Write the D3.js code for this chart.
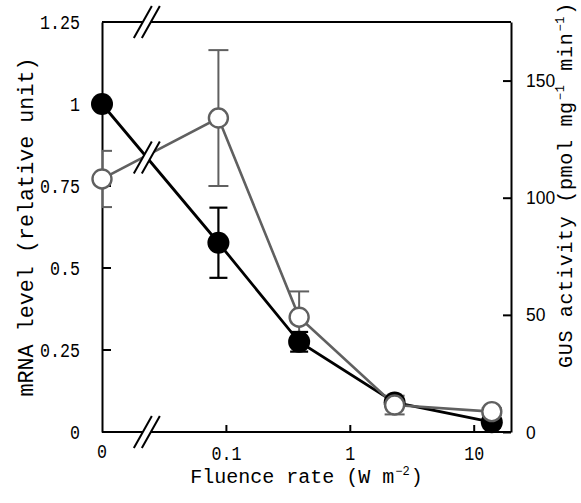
<!DOCTYPE html>
<html>
<head>
<meta charset="utf-8">
<script src="https://cdn.jsdelivr.net/npm/d3@7"></script>
<style>
  body { margin: 0; background: #fff; }
  svg { display: block; }
</style>
</head>
<body>
<svg id="plot"></svg>
<script>
// data
const fluence = [0, 0.087, 0.39, 2.3, 14];        // W m-2 (0 = dark, drawn at the axis)
const mRNA = [1.0, 0.577, 0.275, 0.09, 0.03];     // relative unit, left axis
const mRNAErr = [0, 0.107, 0.03, 0.01, 0];
const gus = [108, 134, 49, 11.5, 8.7];            // pmol mg-1 min-1, right axis
const gusErr = [12, 29, 11, 4, 1.5];
const leftTicks = [0, 0.25, 0.5, 0.75, 1, 1.25];
const rightTicks = [0, 50, 100, 150];
const xTicks = [0.1, 1, 10];

const svg = d3.select("#plot")
    .attr("width", 581)
    .attr("height", 503);
const margin = { top: 22, right: 70, bottom: 71, left: 102 };
const width = 581 - margin.left - margin.right;
const height = 503 - margin.top - margin.bottom;

const g = svg.append("g")
    .attr("transform", `translate(${margin.left},${margin.top})`);

// scales
const xLog = d3.scaleLog().domain([0.01, 20]).range([0, width]);
const xPos = v => v === 0 ? 0 : xLog(v);
const yLeft = d3.scaleLinear().domain([0, 1.25]).range([height, 0]);
const yRight = d3.scaleLinear().domain([0, 175]).range([height, 0]);

const gray = "#606060";
const monoFont = "'Liberation Mono', 'DejaVu Sans Mono', monospace";

// squeeze mono labels to the narrow look of the original
function narrow(sel, perChar) {
    sel.attr("textLength", function() { return this.textContent.length * perChar; })
        .attr("lengthAdjust", "spacingAndGlyphs");
}

// clip for error bars (half caps at the y axis)
svg.append("defs").append("clipPath")
    .attr("id", "clip")
    .append("rect")
    .attr("x", 0).attr("y", -20)
    .attr("width", width).attr("height", height + 40);

// frame top
g.append("line").attr("x1", 0).attr("x2", width).attr("y1", 0).attr("y2", 0)
    .attr("stroke", "#000").attr("stroke-width", 2);

// left axis
const leftAxis = d3.axisLeft(yLeft)
    .tickValues(leftTicks)
    .tickSize(0)
    .tickPadding(22)
    .tickFormat(d => String(d));
g.append("g").attr("class", "y-left").call(leftAxis)
    .call(a => a.select(".domain").attr("stroke", "#000").attr("stroke-width", 2))
    .call(a => a.selectAll("text")
        .style("font-family", monoFont).style("font-size", "20px").attr("fill", "#000")
        .call(narrow, 10));
g.selectAll(".ltick")
    .data(leftTicks.filter(d => d < 1.25))
    .enter().append("line")
    .attr("class", "ltick")
    .attr("x1", 0).attr("x2", 9)
    .attr("y1", d => yLeft(d)).attr("y2", d => yLeft(d))
    .attr("stroke", "#000").attr("stroke-width", 2);

// right axis
const rightAxis = d3.axisRight(yRight)
    .tickValues(rightTicks)
    .tickSizeInner(-8)
    .tickSizeOuter(0)
    .tickPadding(15);
g.append("g").attr("class", "y-right")
    .attr("transform", `translate(${width},0)`)
    .call(rightAxis)
    .call(a => a.select(".domain").attr("stroke", "#000").attr("stroke-width", 2))
    .call(a => a.selectAll(".tick line").attr("stroke", "#000").attr("stroke-width", 2))
    .call(a => a.selectAll("text")
        .style("font-family", "'Liberation Sans', Arial, sans-serif").style("font-size", "19px").attr("fill", "#000")
        .call(narrow, 9.7));

// bottom axis
const xAxis = d3.axisBottom(xLog)
    .tickValues(xTicks)
    .tickSizeInner(-7)
    .tickSizeOuter(0)
    .tickPadding(14)
    .tickFormat(d => String(d));
g.append("g").attr("class", "x-axis")
    .attr("transform", `translate(0,${height})`)
    .call(xAxis)
    .call(a => a.select(".domain").attr("stroke", "#000").attr("stroke-width", 2)
        .attr("d", `M0,0H${width}`))
    .call(a => a.selectAll(".tick line").attr("stroke", "#000").attr("stroke-width", 2))
    .call(a => a.selectAll("text")
        .style("font-family", monoFont).style("font-size", "20px").attr("fill", "#000")
        .call(narrow, 10));
g.append("text")
    .attr("x", xPos(0)).attr("y", height + 26)
    .attr("text-anchor", "middle")
    .style("font-family", monoFont).style("font-size", "20px")
    .text("0")
    .call(narrow, 10);

// series
const pts = fluence.map((f, i) => ({ f, m: mRNA[i], me: mRNAErr[i], u: gus[i], ue: gusErr[i] }));

// black series (mRNA)
g.append("path")
    .datum(pts)
    .attr("fill", "none").attr("stroke", "#000").attr("stroke-width", 2.8)
    .attr("d", d3.line().x(d => xPos(d.f)).y(d => yLeft(d.m)));

const errM = g.append("g").attr("clip-path", "url(#clip)");
pts.filter(d => d.me > 0).forEach(d => {
    const x = xPos(d.f);
    errM.append("line").attr("x1", x).attr("x2", x)
        .attr("y1", yLeft(d.m - d.me)).attr("y2", yLeft(d.m + d.me))
        .attr("stroke", "#000").attr("stroke-width", 2.2);
    [d.m - d.me, d.m + d.me].forEach(v => {
        errM.append("line").attr("x1", x - 9).attr("x2", x + 9)
            .attr("y1", yLeft(v)).attr("y2", yLeft(v))
            .attr("stroke", "#000").attr("stroke-width", 2.2);
    });
});

// gray series (GUS)
g.append("path")
    .datum(pts)
    .attr("fill", "none").attr("stroke", gray).attr("stroke-width", 2.6)
    .attr("d", d3.line().x(d => xPos(d.f)).y(d => yRight(d.u)));

const errU = g.append("g").attr("clip-path", "url(#clip)");
pts.filter(d => d.ue > 0).forEach(d => {
    const x = xPos(d.f);
    errU.append("line").attr("x1", x).attr("x2", x)
        .attr("y1", yRight(d.u - d.ue)).attr("y2", yRight(d.u + d.ue))
        .attr("stroke", gray).attr("stroke-width", 2);
    [d.u - d.ue, d.u + d.ue].forEach(v => {
        errU.append("line").attr("x1", x - 10).attr("x2", x + 10)
            .attr("y1", yRight(v)).attr("y2", yRight(v))
            .attr("stroke", gray).attr("stroke-width", 2);
    });
});

g.selectAll(".dot-m")
    .data(pts)
    .enter().append("circle")
    .attr("class", "dot-m")
    .attr("cx", d => xPos(d.f))
    .attr("cy", d => yLeft(d.m))
    .attr("r", 11)
    .attr("fill", "#000");

g.selectAll(".dot-u")
    .data(pts)
    .enter().append("circle")
    .attr("class", "dot-u")
    .attr("cx", d => xPos(d.f))
    .attr("cy", d => yRight(d.u))
    .attr("r", 9.5)
    .attr("fill", "#fff")
    .attr("stroke", gray).attr("stroke-width", 2.4);

// axis break marks "//"
function drawBreak(cx, cy) {
    const dx = 9, dy = 16, o = 4;
    g.append("path")
        .attr("d", `M${cx - o - dx},${cy + dy}L${cx - o + dx},${cy - dy}L${cx + o + dx},${cy - dy}L${cx + o - dx},${cy + dy}Z`)
        .attr("fill", "#fff");
    [-o, o].forEach(s => {
        g.append("line")
            .attr("x1", cx + s - dx).attr("y1", cy + dy)
            .attr("x2", cx + s + dx).attr("y2", cy - dy)
            .attr("stroke", "#000").attr("stroke-width", 2);
    });
}
const bx = xLog(0.023);
const p0 = pts[0], p1 = pts[1];
const t = (bx - xPos(p0.f)) / (xPos(p1.f) - xPos(p0.f));
const by = yLeft(p0.m) + t * (yLeft(p1.m) - yLeft(p0.m));
drawBreak(bx, 0);
drawBreak(bx, height);
drawBreak(bx, by);

// axis titles
g.append("text")
    .attr("x", width / 2).attr("y", height + 51)
    .attr("text-anchor", "middle")
    .style("font-family", monoFont).style("font-size", "20px")
    .call(t => {
        t.append("tspan").text("Fluence rate (W m");
        t.append("tspan").attr("dy", -8).attr("dx", 1).style("font-size", "12px").text("−2");
        t.append("tspan").attr("dy", 8).attr("dx", 1).text(")");
    });

svg.append("text")
    .attr("transform", `translate(33,${margin.top + height / 2}) rotate(-90)`)
    .attr("text-anchor", "middle")
    .attr("textLength", 339).attr("lengthAdjust", "spacingAndGlyphs")
    .style("font-family", monoFont).style("font-size", "22px")
    .text("mRNA level (relative unit)");

svg.append("text")
    .attr("transform", `translate(572,${margin.top + 163}) rotate(-90)`)
    .attr("text-anchor", "middle")
    .style("font-family", monoFont).style("font-size", "20px")
    .style("letter-spacing", "0.7px")
    .call(t => {
        t.append("tspan").text("GUS activity (pmol mg");
        t.append("tspan").attr("dy", -8).attr("dx", 1).style("font-size", "12px").text("−1");
        t.append("tspan").attr("dy", 8).attr("dx", 1).text(" min");
        t.append("tspan").attr("dy", -8).attr("dx", 1).style("font-size", "12px").text("−1");
        t.append("tspan").attr("dy", 8).attr("dx", 1).text(")");
    });
</script>
</body>
</html>
